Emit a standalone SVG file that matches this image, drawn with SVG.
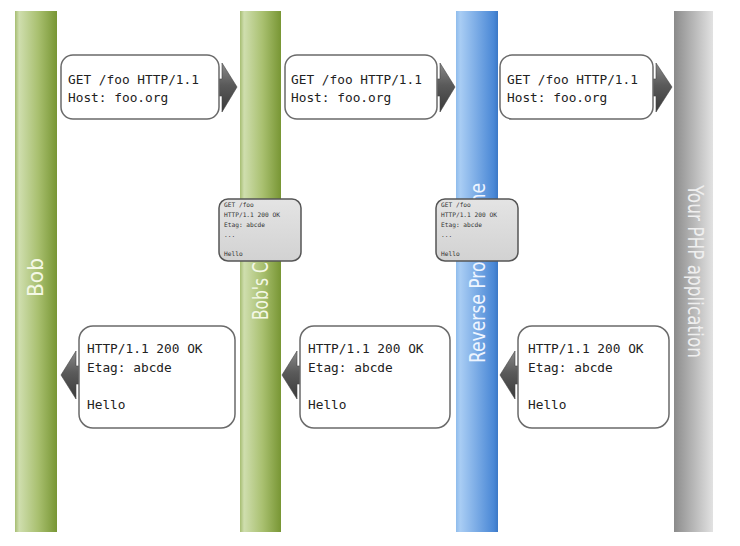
<svg xmlns="http://www.w3.org/2000/svg" width="740" height="546" viewBox="0 0 740 546">
<defs>
<linearGradient id="gGreen" x1="0" y1="0" x2="1" y2="0">
<stop offset="0" stop-color="#a6bd72"/>
<stop offset="0.1" stop-color="#cfdeae"/>
<stop offset="0.55" stop-color="#a9c070"/>
<stop offset="1" stop-color="#789634"/>
</linearGradient>
<linearGradient id="gBlue" x1="0" y1="0" x2="1" y2="0">
<stop offset="0" stop-color="#8fbcec"/>
<stop offset="0.1" stop-color="#a9cdf4"/>
<stop offset="0.9" stop-color="#4a88d6"/>
<stop offset="1" stop-color="#3b78c6"/>
</linearGradient>
<linearGradient id="gGray" x1="0" y1="0" x2="1" y2="0">
<stop offset="0" stop-color="#8a8a8a"/>
<stop offset="0.15" stop-color="#999999"/>
<stop offset="1" stop-color="#e2e2e2"/>
</linearGradient>
<linearGradient id="gArrow" x1="0" y1="0" x2="0" y2="1">
<stop offset="0" stop-color="#8a8a8a"/>
<stop offset="0.45" stop-color="#5a5a5a"/>
<stop offset="1" stop-color="#3a3a3a"/>
</linearGradient>
<linearGradient id="gCache" x1="0" y1="0" x2="0" y2="1">
<stop offset="0" stop-color="#e4e4e4"/>
<stop offset="1" stop-color="#d2d2d2"/>
</linearGradient>
<style>
.bar-label{font-family:"DejaVu Sans Condensed","DejaVu Sans","Liberation Sans",sans-serif;font-stretch:condensed;font-size:21px;}
.msg{fill:#ffffff;stroke:#6a6a6a;stroke-width:1.5;}
.mt{font-family:"DejaVu Sans Mono","Liberation Mono",monospace;font-size:12.8px;fill:#222222;}
.cache{fill:url(#gCache);stroke:#555555;stroke-width:1.5;}
.ct{font-family:"DejaVu Sans Mono","Liberation Mono",monospace;font-size:6.2px;fill:#333333;}
.arrow{fill:url(#gArrow);stroke:#444444;stroke-width:0.6;}
</style>
</defs>
<rect width="740" height="546" fill="#ffffff"/>

<g id="bob">
<rect x="15" y="11" width="42" height="521" fill="url(#gGreen)"/>
<text class="bar-label" fill="#f4f8e6" transform="translate(43,297) rotate(-90)" textLength="39" lengthAdjust="spacingAndGlyphs">Bob</text>
</g>
<g id="bobs-cache">
<rect x="240" y="11" width="41" height="521" fill="url(#gGreen)"/>
<text class="bar-label" fill="#f4f8e6" transform="translate(268,320) rotate(-90)" textLength="95" lengthAdjust="spacingAndGlyphs">Bob's Cache</text>
</g>
<g id="reverse-proxy">
<rect x="456" y="11" width="42" height="521" fill="url(#gBlue)"/>
<text class="bar-label" fill="#eef5ff" transform="translate(485,363) rotate(-90)" textLength="180" lengthAdjust="spacingAndGlyphs">Reverse Proxy Cache</text>
</g>
<g id="php-app">
<rect x="674" y="11" width="39" height="521" fill="url(#gGray)"/>
<text class="bar-label" fill="#efefef" transform="translate(688,185) rotate(90)" textLength="173" lengthAdjust="spacingAndGlyphs">Your PHP application</text>
</g>

<g id="connectors">
<polygon class="arrow" points="218,79 222,79 222,63 237,87 222,112 222,96 218,96"/>
<polygon class="arrow" points="436,79 440,79 440,63 455,87 440,112 440,96 436,96"/>
<polygon class="arrow" points="652,79 656,79 656,63 672,87 656,112 656,96 652,96"/>
<polygon class="arrow" points="80,366 76,366 76,351 61,375 76,399 76,384 80,384"/>
<polygon class="arrow" points="301,366 297,366 297,351 282,375 297,399 297,384 301,384"/>
<polygon class="arrow" points="519,366 515,366 515,351 500,375 515,399 515,384 519,384"/>
</g>

<g id="req1">
<rect class="msg" x="61" y="55" width="158" height="64" rx="12"/>
<text class="mt" x="68" y="84">GET /foo HTTP/1.1</text>
<text class="mt" x="68" y="102">Host: foo.org</text>
</g>
<g id="req2">
<rect class="msg" x="285" y="55" width="152" height="64" rx="12"/>
<text class="mt" x="291" y="84">GET /foo HTTP/1.1</text>
<text class="mt" x="291" y="102">Host: foo.org</text>
</g>
<g id="req3">
<rect class="msg" x="500" y="55" width="153" height="64" rx="12"/>
<text class="mt" x="507" y="84">GET /foo HTTP/1.1</text>
<text class="mt" x="507" y="102">Host: foo.org</text>
</g>

<g id="cache1">
<rect class="cache" x="219" y="199" width="82" height="62" rx="9"/>
<text class="ct" x="224" y="207">GET /foo</text>
<text class="ct" x="224" y="217">HTTP/1.1 200 OK</text>
<text class="ct" x="224" y="227">Etag: abcde</text>
<text class="ct" x="224" y="237">...</text>
<text class="ct" x="224" y="256">Hello</text>
</g>
<g id="cache2">
<rect class="cache" x="436" y="199" width="82" height="62" rx="9"/>
<text class="ct" x="441" y="207">GET /foo</text>
<text class="ct" x="441" y="217">HTTP/1.1 200 OK</text>
<text class="ct" x="441" y="227">Etag: abcde</text>
<text class="ct" x="441" y="237">...</text>
<text class="ct" x="441" y="256">Hello</text>
</g>

<g id="resp1">
<rect class="msg" x="79" y="326" width="156" height="102" rx="14"/>
<text class="mt" x="87" y="353">HTTP/1.1 200 OK</text>
<text class="mt" x="87" y="372">Etag: abcde</text>
<text class="mt" x="87" y="409">Hello</text>
</g>
<g id="resp2">
<rect class="msg" x="300" y="326" width="150" height="102" rx="14"/>
<text class="mt" x="308" y="353">HTTP/1.1 200 OK</text>
<text class="mt" x="308" y="372">Etag: abcde</text>
<text class="mt" x="308" y="409">Hello</text>
</g>
<g id="resp3">
<rect class="msg" x="518" y="326" width="151" height="102" rx="14"/>
<text class="mt" x="528" y="353">HTTP/1.1 200 OK</text>
<text class="mt" x="528" y="372">Etag: abcde</text>
<text class="mt" x="528" y="409">Hello</text>
</g>
</svg>
